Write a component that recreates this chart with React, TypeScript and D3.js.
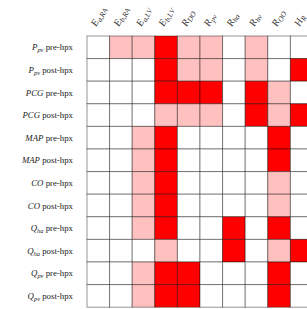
import React from "react";
import * as d3 from "d3";

// Row labels: [math symbol, subscript, suffix]
const rowMath = ["P", "P", "PCG", "PCG", "MAP", "MAP", "CO", "CO", "Q", "Q", "Q", "Q"];
const rowSub = ["pv", "pv", "", "", "", "", "", "", "ha", "ha", "pv", "pv"];
const rowSuffix = ["pre-hpx", "post-hpx", "pre-hpx", "post-hpx", "pre-hpx", "post-hpx", "pre-hpx", "post-hpx", "pre-hpx", "post-hpx", "pre-hpx", "post-hpx"];

// Column labels: [symbol, subscript]
const colMath = ["E", "E", "E", "E", "R", "R", "R", "R", "R", "H"];
const colSub = ["a,RA", "b,RA", "a,LV", "b,LV", "DO", "pv", "ha", "hv", "OO", "R"];

// 0 = none, 1 = weak, 2 = strong
const row0 = [0, 1, 1, 2, 1, 1, 0, 1, 0, 0];
const row1 = [0, 0, 0, 2, 1, 1, 0, 1, 0, 2];
const row2 = [0, 0, 0, 2, 2, 2, 0, 2, 1, 0];
const row3 = [0, 0, 0, 1, 1, 1, 0, 2, 1, 2];
const row4 = [0, 0, 1, 2, 0, 0, 0, 0, 2, 0];
const row5 = [0, 0, 1, 2, 0, 0, 0, 0, 2, 0];
const row6 = [0, 0, 1, 2, 0, 0, 0, 0, 1, 0];
const row7 = [0, 0, 1, 2, 0, 0, 0, 0, 1, 0];
const row8 = [0, 0, 1, 2, 0, 0, 2, 0, 2, 0];
const row9 = [0, 0, 0, 1, 0, 0, 2, 0, 1, 2];
const row10 = [0, 0, 1, 2, 2, 0, 0, 0, 2, 0];
const row11 = [0, 0, 1, 2, 2, 0, 0, 0, 2, 0];
const levels = [row0, row1, row2, row3, row4, row5, row6, row7, row8, row9, row10, row11];

export default function App() {
  const W = 307, H = 309;
  const left = 87, top = 36, cell = 22.6;
  const nR = levels.length, nC = colMath.length;
  const x = d3.scaleBand<number>().domain(d3.range(nC)).range([left, left + nC * cell]);
  const y = d3.scaleBand<number>().domain(d3.range(nR)).range([top, top + nR * cell]);
  const color = d3.scaleOrdinal<number, string>().domain([0, 1, 2]).range(["#ffffff", "#ffc0c0", "#ff0000"]);
  const font = "'Liberation Serif', 'DejaVu Serif', serif";

  return (
    <svg width={W} height={H} style={{ position: "absolute", left: 0, top: 0, background: "#fff" }} fontFamily={font}>
      <g>
        {levels.map((row, r) =>
          row.map((v, c) => (
            <rect key={`${r}-${c}`} x={x(c)} y={y(r)} width={x.bandwidth()} height={y.bandwidth()}
              fill={color(v)} stroke="rgba(0,0,0,0.42)" strokeWidth={1} />
          ))
        )}
      </g>
      <g>
        {rowMath.map((m, r) => (
          <text key={r} x={left - 14} y={(y(r) as number) + y.bandwidth() / 2 + 3} textAnchor="end" fontSize={8.8} fill="#222">
            <tspan fontStyle="italic">{m}</tspan>
            {rowSub[r] ? <tspan fontStyle="italic" fontSize={6.4} dy={1.8}>{rowSub[r]}</tspan> : null}
            <tspan dy={rowSub[r] ? -1.8 : 0}>{" " + rowSuffix[r]}</tspan>
          </text>
        ))}
      </g>
      <g>
        {colMath.map((m, c) => {
          const cx = (x(c) as number) + x.bandwidth() / 2 - 2;
          const cy = 27;
          return (
            <g key={c} transform={`translate(${cx},${cy}) rotate(-62)`}>
              <text x={0} y={0} textAnchor="start" fontSize={10} fontStyle="italic" fill="#333">
                <tspan>{m}</tspan>
                <tspan fontSize={7.4} dy={2}>{colSub[c]}</tspan>
              </text>
            </g>
          );
        })}
      </g>
    </svg>
  );
}
